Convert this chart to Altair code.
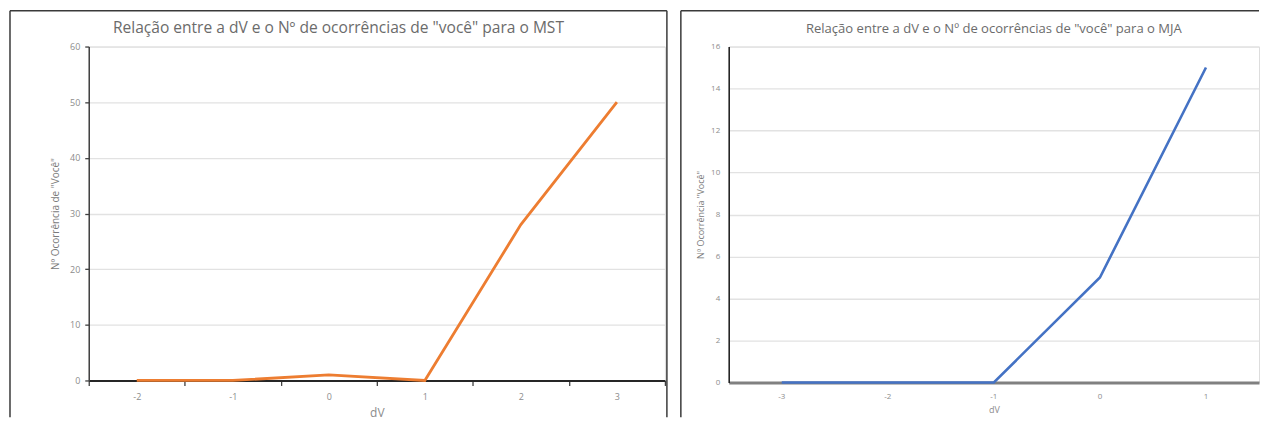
import altair as alt
import pandas as pd

# ---- data ----
dv_mst = [-2, -1, 0, 1, 2, 3]
occ_mst = [0, 0, 1, 0, 28, 50]
yticks_mst = [0, 10, 20, 30, 40, 50, 60]

dv_mja = [-3, -2, -1, 0, 1]
occ_mja = [0, 0, 0, 5, 15]
yticks_mja = [0, 2, 4, 6, 8, 10, 12, 14, 16]

title_mst = 'Relação entre a dV e o Nº de ocorrências de "você" para o MST'
title_mja = 'Relação entre a dV e o Nº de ocorrências de "você" para o MJA'
ytitle_mst = 'Nº Ocorrência de "Você"'
ytitle_mja = 'Nº Ocorrência "Você"'
xtitle = "dV"

FONT = "Open Sans"
LABEL_GRAY = "#8c8c8c"
TITLE_GRAY = "#6b6b6b"
GRID = "#e2e2e2"
FRAME = "#3a3a3a"

df_mst = pd.DataFrame({"dV": dv_mst, "n": occ_mst})
df_mja = pd.DataFrame({"dV": dv_mja, "n": occ_mja})

no_zero_grid = {"condition": {"test": "datum.value === 0", "value": 0}, "value": 1}


def frame(left, top, bottom, right=None, right_side=True):
    base = alt.Chart(alt.Data(values=[{"k": 1}]))
    rules = [
        base.mark_rule(color=FRAME, strokeWidth=1.5).encode(
            x=alt.value(left), x2=alt.value(right), y=alt.value(top)),
        base.mark_rule(color=FRAME, strokeWidth=1.5).encode(
            x=alt.value(left), y=alt.value(top), y2=alt.value(bottom)),
    ]
    if right_side:
        rules.append(base.mark_rule(color=FRAME, strokeWidth=1.5).encode(
            x=alt.value(right), y=alt.value(top), y2=alt.value(bottom)))
    return rules


# ---- left chart (MST) ----
W1, H1 = 578, 335
line_mst = alt.Chart(df_mst).mark_line(color="#ED7D31", strokeWidth=2.8).encode(
    x=alt.X("dV:O", sort=dv_mst, bandPosition=0.5,
            scale=alt.Scale(type="band", paddingInner=0, paddingOuter=0),
            axis=alt.Axis(labelAngle=0, tickBand="extent", grid=False,
                          domainColor="#262626", domainWidth=2,
                          tickColor="#404040", tickSize=5, tickWidth=1.3,
                          labelFont=FONT, labelFontSize=9, labelColor=LABEL_GRAY,
                          labelPadding=7, title=xtitle, titleFont=FONT,
                          titleFontSize=12, titleColor=LABEL_GRAY,
                          titleFontWeight="normal", titlePadding=6)),
    y=alt.Y("n:Q", scale=alt.Scale(domain=[0, 60], nice=False),
            axis=alt.Axis(values=yticks_mst, grid=True, gridColor=GRID, gridWidth=1.3,
                          gridOpacity=no_zero_grid,
                          domainColor="#404040", domainWidth=1.5,
                          tickColor="#404040", tickSize=4, tickWidth=1.3,
                          labelFont=FONT, labelFontSize=9, labelColor=LABEL_GRAY,
                          labelPadding=5, title=ytitle_mst, titleFont=FONT,
                          titleFontSize=10, titleColor="#7a7a7a",
                          titleFontWeight="normal", titlePadding=9)),
)
left = alt.layer(*frame(-79, -36, 372, right=580), line_mst).properties(
    width=W1, height=H1,
    title=alt.TitleParams(title_mst, font=FONT, fontSize=15.6, fontWeight="normal",
                          color=TITLE_GRAY, anchor="middle", frame="bounds", offset=-27),
)

# ---- right chart (MJA) ----
W2, H2 = 532, 337
line_mja = alt.Chart(df_mja).mark_line(color="#4472C4", strokeWidth=2.6).encode(
    x=alt.X("dV:O", sort=dv_mja, bandPosition=0.5,
            scale=alt.Scale(type="band", paddingInner=0, paddingOuter=0),
            axis=alt.Axis(labelAngle=0, ticks=False, grid=False,
                          domainColor="#808080", domainWidth=3,
                          labelFont=FONT, labelFontSize=8, labelColor=LABEL_GRAY,
                          labelPadding=10, title=xtitle, titleFont=FONT,
                          titleFontSize=9, titleColor=LABEL_GRAY,
                          titleFontWeight="normal", titlePadding=5)),
    y=alt.Y("n:Q", scale=alt.Scale(domain=[0, 16], nice=False),
            axis=alt.Axis(values=yticks_mja, grid=True, gridColor=GRID, gridWidth=1.3,
                          gridOpacity=no_zero_grid, ticks=False,
                          domainColor="#1a1a1a", domainWidth=1.5,
                          labelFont=FONT, labelFontSize=8, labelColor=LABEL_GRAY,
                          labelPadding=9, title=ytitle_mja, titleFont=FONT,
                          titleFontSize=9, titleColor="#7a7a7a",
                          titleFontWeight="normal", titlePadding=5)),
)
right = alt.layer(*frame(-48, -36, 372, right=W2, right_side=False), line_mja).properties(
    width=W2, height=H2,
    title=alt.TitleParams(title_mja, font=FONT, fontSize=13.1, fontWeight="normal",
                          color=TITLE_GRAY, anchor="middle", frame="group", offset=-26),
)

chart = alt.hconcat(left, right, spacing=10).properties(padding=0).configure_view(
    stroke=None
).configure(background="white")

chart.save("out.html", embed_options={"renderer": "svg", "actions": False})
